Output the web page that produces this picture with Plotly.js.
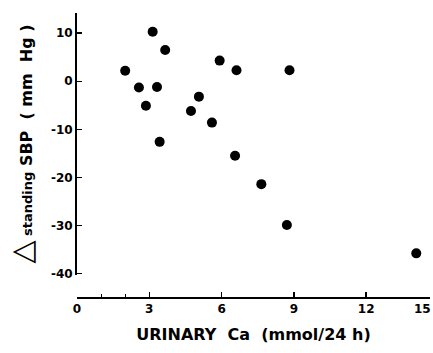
<!DOCTYPE html>
<html>
<head>
<meta charset="utf-8">
<script src="https://cdn.plot.ly/plotly-3.0.1.min.js"></script>
<style>
  html, body { margin: 0; padding: 0; background: #fff; overflow: hidden; }
  #chart { width: 433px; height: 353px; }
</style>
</head>
<body>
<div id="chart"></div>
<script>
// Data
const urinaryCa = [2.0, 2.57, 2.86, 3.14, 3.32, 3.43, 3.66, 4.73, 5.06, 5.6, 5.92, 6.56, 6.62, 7.65, 8.71, 8.82, 14.08];
const deltaSBP  = [2.2, -1.3, -5.1, 10.3, -1.2, -12.6, 6.5, -6.2, -3.2, -8.6, 4.3, -15.5, 2.3, -21.4, -29.9, 2.3, -35.8];

const xTickVals = [0, 3, 6, 9, 12];
const xTickText = ['0', '3', '6', '9', '12'];
const xMinorTicks = [1, 2];
const xEdgeText = '15';            // last tick label, at the right edge of the figure
const yTickVals = [10, 0, -10, -20, -30, -40];
const yTickText = ['10', '0', '-10', '-20', '-30', '-40'];

const xRange = [0, 14.65];
const yRange = [-40.3, 14.2];

const FONT = 'DejaVu Sans, Verdana, sans-serif';
const bold = s => '<b>' + s + '</b>';

const trace = {
  type: 'scatter',
  mode: 'markers',
  x: urinaryCa,
  y: deltaSBP,
  marker: { color: '#000', size: 10, line: { width: 0 } },
  cliponaxis: false,
  hoverinfo: 'skip'
};

const layout = {
  width: 433,
  height: 353,
  margin: { l: 77, r: 3, t: 13, b: 56 },
  paper_bgcolor: '#fff',
  plot_bgcolor: '#fff',
  showlegend: false,
  font: { family: FONT, color: '#000' },
  xaxis: {
    range: xRange,
    anchor: 'free',
    position: 0,
    showgrid: false,
    zeroline: false,
    showline: true,
    linecolor: '#000',
    linewidth: 1.5,
    ticks: 'inside',
    ticklen: 5,
    tickwidth: 1.5,
    tickcolor: '#000',
    tickmode: 'array',
    tickvals: xTickVals,
    ticktext: xTickText.map(bold),
    minor: { tickmode: 'array', tickvals: xMinorTicks, ticks: 'inside', ticklen: 3, tickwidth: 1.2, tickcolor: '#000', showgrid: false },
    tickfont: { family: FONT, size: 12, color: '#000' },
    title: {
      text: 'URINARY  Ca  (mmol/24 h)',
      font: { family: FONT, size: 16, weight: 'bold', color: '#000' },
      standoff: 14
    }
  },
  yaxis: {
    range: yRange,
    domain: [22 / 284, 1],
    showgrid: false,
    zeroline: false,
    showline: true,
    linecolor: '#000',
    linewidth: 2,
    ticks: 'inside',
    ticklen: 5,
    tickwidth: 1.5,
    tickcolor: '#000',
    tickmode: 'array',
    tickvals: yTickVals,
    ticktext: yTickText.map(bold),
    tickfont: { family: FONT, size: 12, color: '#000' },
    title: {
      text: '<span style="font-size:30px;font-weight:normal">△</span><span style="font-size:13px"> standing</span> SBP  ( mm  Hg )',
      font: { family: FONT, size: 16, weight: 'bold', color: '#000' },
      standoff: 14
    }
  },
  annotations: [{
    xref: 'paper', yref: 'paper',
    x: 1.008,
    y: 0,
    yanchor: 'top',
    xanchor: 'right',
    yshift: -3,
    showarrow: false,
    text: bold(xEdgeText),
    font: { family: FONT, size: 12, color: '#000' }
  }]
};

Plotly.newPlot('chart', [trace], layout, { staticPlot: true, displayModeBar: false });
</script>
</body>
</html>
